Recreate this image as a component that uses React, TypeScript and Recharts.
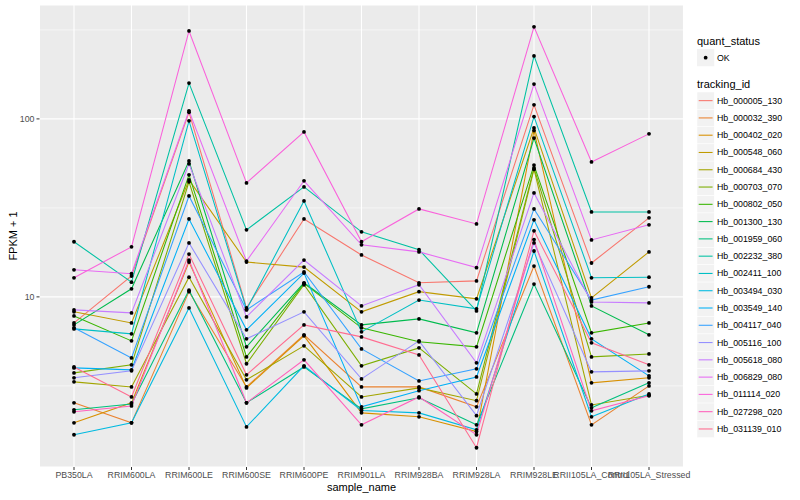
import React from 'react';
import { LineChart, Line, XAxis, YAxis, CartesianGrid } from 'recharts';

const samples = [
  'PB350LA', 'RRIM600LA', 'RRIM600LE', 'RRIM600SE', 'RRIM600PE', 'RRIM901LA',
  'RRIM928BA', 'RRIM928LA', 'RRIM928LE', 'RRII105LA_Control', 'RRII105LA_Stressed',
];

// FPKM + 1 per sample
const hb_000005_130 = [7.14, 13.1, 109, 8.67, 27.4, 17.2, 12.0, 12.3, 120, 15.5, 27.8];
const hb_000032_390 = [2.54, 1.96, 10.7, 3.12, 6.12, 3.12, 3.12, 2.41, 14.9, 1.91, 3.16];
const hb_000402_020 = [1.96, 2.54, 15.7, 3.08, 6.04, 2.23, 2.12, 1.75, 86, 3.29, 3.51];
const hb_000548_060 = [8.24, 7.14, 45.4, 15.7, 14.7, 8.24, 10.7, 9.75, 89, 9.87, 17.9];
const hb_000684_430 = [3.33, 3.12, 12.9, 3.42, 5.31, 2.74, 3.08, 2.61, 52, 2.47, 2.8];
const hb_000703_070 = [3.74, 4.15, 44.3, 4.21, 11.7, 4.1, 5.17, 2.85, 53, 4.6, 4.78];
const hb_000802_050 = [7.82, 5.66, 48.5, 4.6, 11.9, 6.7, 5.59, 5.24, 55, 6.28, 7.14];
const hb_001300_130 = [6.96, 11.1, 58, 5.24, 12.0, 6.96, 7.52, 6.28, 78, 8.9, 6.12];
const hb_001959_060 = [2.32, 2.5, 10.9, 2.54, 4.04, 2.35, 2.71, 1.91, 11.8, 2.38, 3.29];
const hb_002232_380 = [20.4, 12.1, 159, 23.8, 41.5, 23.2, 18.4, 8.34, 226, 30.0, 30.0];
const hb_002411_100 = [6.61, 6.2, 97.5, 8.5, 34.6, 6.36, 9.6, 8.57, 103, 12.8, 12.9];
const hb_003494_030 = [1.68, 1.96, 8.67, 1.86, 4.1, 2.3, 2.23, 1.79, 18.1, 2.12, 2.85];
const hb_003549_140 = [3.99, 3.89, 27.4, 6.53, 13.6, 2.41, 2.97, 3.55, 27.1, 5.81, 3.6];
const hb_004117_040 = [6.7, 4.54, 36.9, 8.45, 13.8, 5.1, 3.37, 3.94, 31.2, 9.6, 11.4];
const hb_005116_100 = [3.51, 3.84, 20.1, 5.81, 8.24, 3.46, 5.66, 2.15, 20.1, 3.79, 3.84];
const hb_005618_080 = [8.45, 8.13, 55.9, 7.72, 16.1, 8.9, 11.7, 4.26, 38.4, 9.37, 9.25];
const hb_006829_080 = [14.2, 13.5, 111, 15.9, 44.9, 19.6, 17.9, 14.6, 157, 20.9, 25.4];
const hb_011114_020 = [12.8, 19.1, 312, 43.7, 84.5, 20.4, 31.2, 25.7, 329, 57.3, 82.4];
const hb_027298_020 = [2.26, 2.44, 16.1, 2.54, 4.43, 1.91, 2.74, 1.68, 21, 2.29, 2.78];
const hb_031139_010 = [4.04, 2.74, 17.4, 3.65, 6.96, 5.96, 4.72, 1.42, 23.5, 5.52, 4.15];

const trackingIds = [
  'Hb_000005_130', 'Hb_000032_390', 'Hb_000402_020', 'Hb_000548_060', 'Hb_000684_430',
  'Hb_000703_070', 'Hb_000802_050', 'Hb_001300_130', 'Hb_001959_060', 'Hb_002232_380',
  'Hb_002411_100', 'Hb_003494_030', 'Hb_003549_140', 'Hb_004117_040', 'Hb_005116_100',
  'Hb_005618_080', 'Hb_006829_080', 'Hb_011114_020', 'Hb_027298_020', 'Hb_031139_010',
];

const seriesValues = [
  hb_000005_130, hb_000032_390, hb_000402_020, hb_000548_060, hb_000684_430,
  hb_000703_070, hb_000802_050, hb_001300_130, hb_001959_060, hb_002232_380,
  hb_002411_100, hb_003494_030, hb_003549_140, hb_004117_040, hb_005116_100,
  hb_005618_080, hb_006829_080, hb_011114_020, hb_027298_020, hb_031139_010,
];

const colors = [
  '#F8766D', '#EA8331', '#D89000', '#C09B00', '#A3A500', '#7CAE00', '#39B600', '#00BB4E',
  '#00BF7D', '#00C1A3', '#00BFC4', '#00BAE0', '#00B0F6', '#35A2FF', '#9590FF', '#C77CFF',
  '#E76BF3', '#FA62DB', '#FF62BC', '#FF6C90',
];

const yTicks = [10, 100];
const yMinor = [3.1623, 31.623, 316.23];
const yDomain = [1.107, 436.5];

const data = samples.map((s, i) => {
  const row: any = { idx: i, name: s };
  trackingIds.forEach((id, k) => { row[id] = seriesValues[k][i]; });
  return row;
});

const FONT = '"Liberation Sans", Arial, Helvetica, sans-serif';
const tickStyle = { fontSize: 8.8, fill: '#4D4D4D', fontFamily: FONT };

const minorLines = ({ offset }: any) => {
  const lo = Math.log10(yDomain[0]);
  const hi = Math.log10(yDomain[1]);
  return yMinor.map(v => offset.top + offset.height * (hi - Math.log10(v)) / (hi - lo));
};

export default function App() {
  const keyTop = 92;
  const keyH = 17.28;
  return (
    <div style={{ position: 'absolute', left: 0, top: 0, width: 800, height: 500, background: '#fff', fontFamily: FONT }}>
      <LineChart width={800} height={500} data={data} margin={{ top: 5, right: 116.5, bottom: 3, left: 0 }}>
        <CartesianGrid fill="#EBEBEB" stroke="#FFFFFF" strokeWidth={1.1} />
        <CartesianGrid vertical={false} fill="none" stroke="#FFFFFF" strokeWidth={0.55}
          horizontalCoordinatesGenerator={minorLines} />
        <XAxis dataKey="idx" type="number" domain={[-0.6, 10.6]} ticks={samples.map((_, i) => i)}
          tickFormatter={(i: number) => samples[i]} interval={0} height={30}
          axisLine={false} tickLine={{ stroke: '#333333' }} tickSize={3} tickMargin={2} tick={tickStyle} />
        <YAxis type="number" scale="log" domain={yDomain} allowDataOverflow ticks={yTicks} width={39.5}
          axisLine={false} tickLine={{ stroke: '#333333' }} tickSize={3} tickMargin={2} tick={tickStyle} />
        {trackingIds.map((id, k) => (
          <Line key={id} dataKey={id} stroke={colors[k]} strokeWidth={1.07} dot={false}
            activeDot={false} isAnimationActive={false} />
        ))}
        {trackingIds.map(id => (
          <Line key={id + '_pt'} dataKey={id} stroke="none" legendType="none"
            dot={{ r: 1.9, fill: '#000', stroke: 'none' }} activeDot={false} isAnimationActive={false} />
        ))}
      </LineChart>
      <svg width={800} height={500} style={{ position: 'absolute', left: 0, top: 0, pointerEvents: 'none' }}>
        <text x={361.5} y={491} textAnchor="middle" fontSize={11} fill="#000" fontFamily={FONT}>sample_name</text>
        <text transform="translate(17,236) rotate(-90)" textAnchor="middle" fontSize={11} fill="#000" fontFamily={FONT}>FPKM + 1</text>
        <text x={697} y={45} fontSize={11} fill="#000" fontFamily={FONT}>quant_status</text>
        <rect x={697} y={49} width={keyH} height={keyH} fill="#F2F2F2" />
        <circle cx={697 + keyH / 2} cy={49 + keyH / 2} r={1.9} fill="#000" />
        <text x={717} y={49 + keyH / 2 + 3} fontSize={8.8} fill="#000" fontFamily={FONT}>OK</text>
        <text x={697} y={88} fontSize={11} fill="#000" fontFamily={FONT}>tracking_id</text>
        {trackingIds.map((id, k) => {
          const y = keyTop + k * keyH;
          return (
            <g key={id}>
              <rect x={697} y={y} width={keyH} height={keyH} fill="#F2F2F2" stroke="#fff" strokeWidth={0.5} />
              <line x1={698.7} x2={697 + keyH - 1.7} y1={y + keyH / 2} y2={y + keyH / 2} stroke={colors[k]} strokeWidth={1.07} />
              <text x={717} y={y + keyH / 2 + 3} fontSize={8.8} fill="#000" fontFamily={FONT}>{id}</text>
            </g>
          );
        })}
      </svg>
    </div>
  );
}
